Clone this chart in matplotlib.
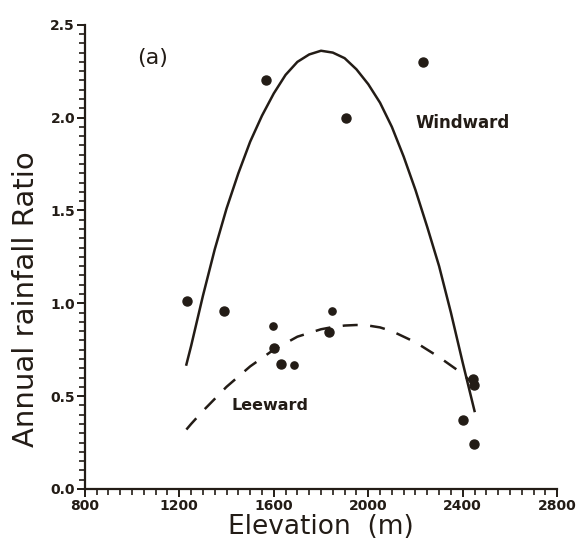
import numpy as np
import matplotlib.pyplot as plt
from matplotlib.ticker import MultipleLocator, FormatStrFormatter

# observed points (elevation m, annual rainfall ratio), larger dots
elev = [1231, 1389, 1567, 1601, 1629, 1834, 1905, 2232, 2403, 2445, 2448, 2448]
ratio = [1.01, 0.96, 2.20, 0.76, 0.675, 0.845, 2.00, 2.30, 0.37, 0.59, 0.56, 0.24]

# observed points drawn with smaller dots
elev_small = [1595, 1686, 1845]
ratio_small = [0.875, 0.665, 0.96]

# windward fitted curve
wind_x = [1230, 1250, 1300, 1350, 1400, 1450, 1500, 1550, 1600, 1650, 1700,
          1750, 1800, 1850, 1900, 1950, 2000, 2050, 2100, 2150, 2200, 2250,
          2300, 2350, 2400, 2450]
wind_y = [0.67, 0.77, 1.04, 1.29, 1.51, 1.70, 1.87, 2.01, 2.13, 2.23, 2.30,
          2.34, 2.36, 2.35, 2.32, 2.26, 2.18, 2.08, 1.95, 1.79, 1.61, 1.41,
          1.20, 0.95, 0.68, 0.42]

# leeward fitted curve
lee_x = [1230, 1250, 1300, 1350, 1400, 1450, 1500, 1550, 1600, 1650, 1700,
         1750, 1800, 1850, 1900, 1950, 2000, 2050, 2100, 2150, 2200, 2250,
         2300, 2350, 2400, 2440]
lee_y = [0.32, 0.35, 0.42, 0.485, 0.55, 0.605, 0.66, 0.705, 0.75, 0.785, 0.82,
         0.84, 0.86, 0.872, 0.88, 0.883, 0.88, 0.87, 0.85, 0.82, 0.79, 0.75,
         0.71, 0.665, 0.62, 0.57]

ink = '#231c16'

fig = plt.figure(figsize=(5.81, 5.5), dpi=100)
ax = fig.add_axes([0.146, 0.111, 0.813, 0.844])

ax.plot(wind_x, wind_y, color=ink, lw=1.8)
ax.plot(lee_x, lee_y, color=ink, lw=1.8, ls=(0, (6, 5)))
ax.plot(elev, ratio, 'o', color=ink, ms=6.5)
ax.plot(elev_small, ratio_small, 'o', color=ink, ms=5.2)

ax.text(1088, 2.32, '(a)', fontsize=16, ha='center', va='center', color=ink)
ax.text(2198, 1.97, 'Windward', fontsize=12, fontweight='bold', va='center', color=ink)
ax.text(1423, 0.45, 'Leeward', fontsize=11.5, fontweight='bold', va='center', color=ink)

ax.set_xlim(800, 2800)
ax.set_ylim(0, 2.5)
ax.xaxis.set_major_locator(MultipleLocator(400))
ax.xaxis.set_minor_locator(MultipleLocator(50))
ax.yaxis.set_major_locator(MultipleLocator(0.5))
ax.yaxis.set_minor_locator(MultipleLocator(0.05))
ax.yaxis.set_major_formatter(FormatStrFormatter('%.1f'))

for s in ['top', 'right']:
    ax.spines[s].set_visible(False)
for s in ['left', 'bottom']:
    ax.spines[s].set_linewidth(1.6)
    ax.spines[s].set_color(ink)

ax.tick_params(which='major', length=6, width=1.4, color=ink, labelsize=10, pad=1)
ax.tick_params(which='minor', length=4.5, width=1.2, color=ink)
for lab in ax.get_xticklabels() + ax.get_yticklabels():
    lab.set_fontweight('bold')
    lab.set_color(ink)

ax.set_xlabel('Elevation  (m)', fontsize=19, color=ink)
ax.set_ylabel('Annual rainfall Ratio', fontsize=21, color=ink)
ax.xaxis.set_label_coords(0.5, -0.055)
ax.yaxis.set_label_coords(-0.095, 0.41)

fig.savefig('out.png', dpi=100)
